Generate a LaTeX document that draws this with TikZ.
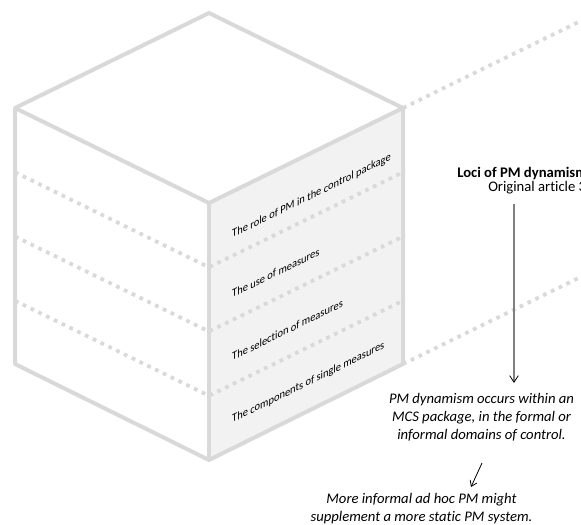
\documentclass[tikz,border=0pt]{standalone}
\usepackage{fontspec}
\setmainfont{Carlito}[Ligatures=NoCommon]
\usetikzlibrary{arrows.meta}
\definecolor{edgegray}{HTML}{D9D9D9}
\definecolor{facegray}{HTML}{F2F2F2}
\definecolor{arrowgray}{HTML}{7F7F7F}

\begin{document}
\begin{tikzpicture}[x=0.75pt,y=-0.75pt,
  cubeedge/.style={draw=edgegray, line width=3pt, line join=round},
  dotline/.style={draw=edgegray, line width=2.8pt, dash pattern=on 2.8pt off 3.7pt},
  facelabel/.style={anchor=base west, inner sep=0pt, font=\fontsize{8.7}{10}\selectfont, transform shape, xscale=0.9},
  note/.style={align=center, inner sep=0pt, font=\itshape\fontsize{11}{13.6}\selectfont},
  plain/.style={anchor=base west, inner sep=0pt, font=\fontsize{11}{13.2}\selectfont},
]
\clip (0,0) rectangle (581,524);

% cube corners
\coordinate (T)  at (209,13);
\coordinate (L)  at (15,108);
\coordinate (R)  at (403,108);
\coordinate (F)  at (209,203);
\coordinate (LB) at (15,364);
\coordinate (FB) at (209,460);
\coordinate (RB) at (403,364);
% far ends of the extended guide lines
\coordinate (Rx)  at (600,11.5);
\coordinate (RBx) at (600,267.5);

% faces
\fill[white] (T) -- (R) -- (F) -- (L) -- cycle;
\fill[white] (L) -- (F) -- (FB) -- (LB) -- cycle;
\fill[facegray] (F) -- (R) -- (RB) -- (FB) -- cycle;

% layer boundaries running round the two side faces
\foreach \d in {64.25,128.5,192.75} {
  \draw[dotline] (15,108+\d) -- (209,203+\d) -- (403,108+\d);
}
% guide lines leaving the right face
\draw[dotline] (R) -- (Rx);
\draw[dotline] (RB) -- (RBx);

% cube outline
\draw[cubeedge] (L) -- (T) -- (R) -- (RB) -- (FB) -- (LB) -- cycle;
\draw[cubeedge] (L) -- (F) -- (R);
\draw[cubeedge] (F) -- (FB);

% labels lying on the right face
\begin{scope}[shift={(232,238)}, yslant=0.49]
  \node[facelabel] (lab1) at (0,0) {The role of PM in the control package};
\end{scope}
\begin{scope}[shift={(232,298)}, yslant=0.49]
  \node[facelabel] (lab2) at (0,0) {The use of measures};
\end{scope}
\begin{scope}[shift={(232,361)}, yslant=0.49]
  \node[facelabel] (lab3) at (0,0) {The selection of measures};
\end{scope}
\begin{scope}[shift={(232,423)}, yslant=0.49]
  \node[facelabel] (lab4) at (0,0) {The components of single measures};
\end{scope}

% heading at the right
\node[plain, font=\bfseries\fontsize{11}{13.2}\selectfont] (loci) at (457,177) {Loci of PM dynamism};
\node[plain] (orig) at (488,191) {Original article 3};

% notes
\node[note, anchor=north] (dyn) at (481.5,393) {PM dynamism occurs within an\\MCS package, in the formal or\\informal domains of control.};
\node[note, anchor=north] (more) at (421.5,493) {More informal ad hoc PM might\\supplement a more static PM system.};

% arrows
\coordinate (a1) at (514,204);
\coordinate (a2) at (514,383);
\draw[arrowgray, line width=1pt, -{Straight Barb[length=5pt,width=6.5pt,color=black,line width=0.6pt]}] (a1) -- (a2);
\coordinate (b1) at (482,463);
\coordinate (b2) at (471,487);
\draw[black, line width=0.6pt, -{Straight Barb[length=4pt,width=5.5pt]}] (b1) -- (b2);
\end{tikzpicture}
\end{document}
